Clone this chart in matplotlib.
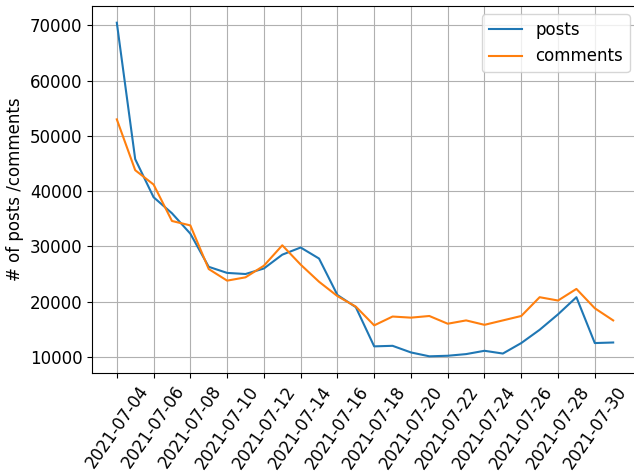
import numpy as np
import pandas as pd
import matplotlib
matplotlib.use('Agg')
import matplotlib.pyplot as plt
import matplotlib.dates as mdates

dates = pd.date_range('2021-07-04', '2021-07-31', freq='D')

posts = [70500, 45800, 38900, 36000, 32300, 26300, 25200, 25000, 26000, 28500,
         29800, 27800, 21200, 19000, 11900, 12000, 10800, 10100, 10200, 10500,
         11100, 10600, 12500, 14900, 17700, 20800, 12500, 12600]

comments = [53000, 43800, 41200, 34600, 33800, 25900, 23800, 24400, 26500, 30200,
            26700, 23600, 21000, 19100, 15700, 17300, 17100, 17400, 16000, 16600,
            15800, 16600, 17400, 20800, 20200, 22300, 18800, 16600]

plt.rcParams['font.size'] = 12

fig = plt.figure(figsize=(6.34, 4.74), dpi=100)
ax = fig.add_axes([0.1451, 0.2131, 0.8612, 0.7742])
ax.plot(dates, posts, label='posts')
ax.plot(dates, comments, label='comments')
ax.set_ylabel('# of posts /comments')
ax.set_xticks(dates[::2])
ax.xaxis.set_major_formatter(mdates.DateFormatter('%Y-%m-%d'))
plt.xticks(rotation=55)
ax.grid(True)
ax.legend(loc='upper right')
fig.savefig('out.png')
